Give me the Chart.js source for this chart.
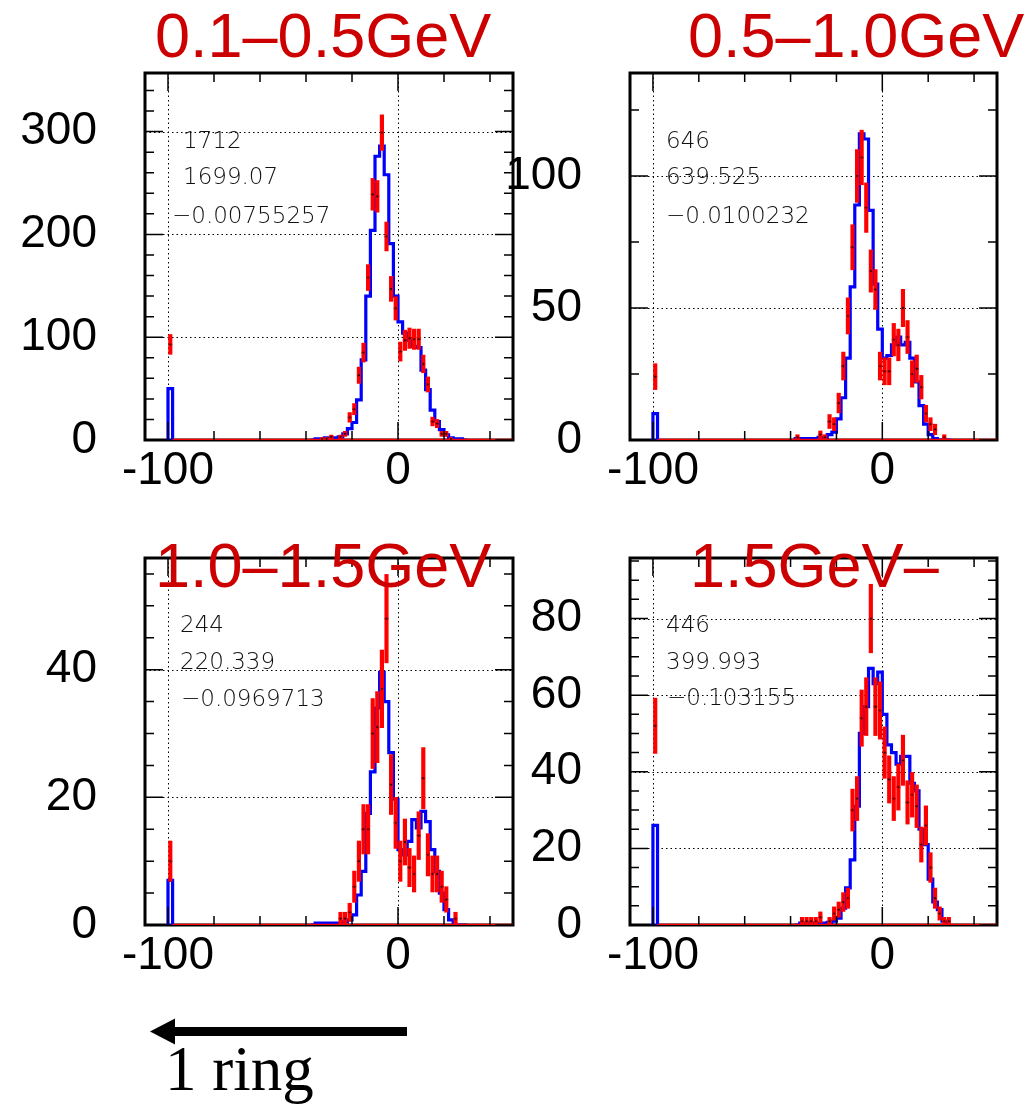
<!DOCTYPE html>
<html>
<head>
<meta charset="utf-8">
<title>ring histograms</title>
<script src="https://cdn.jsdelivr.net/npm/chart.js@4.4.1/dist/chart.umd.min.js"></script>
<style>
  body { margin: 0; background: #fff; }
  #page { position: relative; width: 1032px; height: 1104px; overflow: hidden; background: #fff; }
  #page canvas { position: absolute; }
  .title { position: absolute; font-family: Arial, "Liberation Sans", sans-serif; font-size: 63px; line-height: 63px; color: #cc0000; white-space: nowrap; }
  .stat { position: absolute; font-family: "DejaVu Sans", sans-serif; font-weight: 200; font-size: 23px; line-height: 23px; color: #111; white-space: nowrap; }
  .ring { position: absolute; left: 165px; top: 1038px; font-family: "Liberation Serif", "Times New Roman", serif; font-size: 63px; line-height: 63px; color: #000; white-space: nowrap; }
</style>
</head>
<body>
<div id="page">
  <canvas id="c1" width="520" height="500" style="left:0px;top:0px"></canvas>
  <canvas id="c2" width="542" height="500" style="left:490px;top:0px"></canvas>
  <canvas id="c3" width="520" height="500" style="left:0px;top:485px"></canvas>
  <canvas id="c4" width="542" height="500" style="left:490px;top:485px"></canvas>
  <svg width="1032" height="1104" style="position:absolute;left:0;top:0">
    <line x1="407" y1="1031.5" x2="170" y2="1031.5" stroke="#000" stroke-width="9"></line>
    <polygon points="150,1031.5 175,1018.5 175,1044.5" fill="#000"></polygon>
  </svg>
  <div class="ring">1 ring</div>
</div>
<script>
// bin centres shared by all four histograms (first bin is the "1 ring" bin)
const binWidth = 2;
const binCenters = [-99, -37, -35, -33, -31, -29, -27, -25, -23, -21, -19, -17, -15, -13, -11, -9, -7, -5, -3, -1,
  1, 3, 5, 7, 9, 11, 13, 15, 17, 19, 21, 23, 25, 27, 29];

// 0.1-0.5 GeV
const mc1 = [50, 0, 1, 1, 2, 2, 2, 3, 6, 11, 17, 39, 78, 140, 204, 276, 286, 258, 191, 140,
  115, 104, 97, 91, 90, 68, 49, 29, 18, 10, 5, 2, 1, 1, 0];
const data1 = [93, 0, 0, 1, 1, 3, 0, 3, 6, 22, 30, 63, 85, 158, 239, 237, 299, 198, 147, 128,
  86, 97, 99, 98, 98, 74, 54, 18, 16, 6, 6, 1, 0, 0, 0];

// 0.5-1.0 GeV
const mc2 = [10, 0.5, 0.5, 0.5, 0.5, 0.5, 1, 1, 2, 3, 8, 16, 31, 58, 89, 116, 114, 87, 59, 42,
  31, 32, 36, 39, 36, 37, 31, 22, 13, 6, 2, 0.5, 0, 0, 0];
const data2 = [24, 1, 0, 0, 0, 0, 2, 1, 7, 6, 14, 28, 47, 73, 100, 107, 88, 64, 57, 28,
  26, 26, 38, 36, 50, 39, 25, 27, 20, 10, 6, 4, 0, 1, 0];

// 1.0-1.5 GeV
const mc3 = [7, 0, 0.3, 0.3, 0.3, 0.3, 0.3, 0.3, 0.5, 0.8, 1.6, 4.7, 8.4, 17.5, 24, 34, 39.6, 35, 27, 19.7,
  11.8, 11, 13.1, 16.5, 15.2, 17.8, 16.2, 11.8, 8.4, 5, 2.4, 0.8, 0, 0, 0];
const data3 = [10, 0, 0, 0, 0, 0, 0, 1, 1, 2, 6, 10, 15, 15, 30, 31, 37, 48, 22, 16,
  10, 13, 9, 8, 14, 23, 11, 8, 8, 6, 4, 0, 1, 0, 0];

// 1.5 GeV -
const mc4 = [26, 0, 0.5, 0.5, 0.5, 0.5, 0.5, 0.5, 0.7, 1, 1.8, 4.4, 9.7, 17, 31, 50, 57, 67, 63, 66,
  55, 47, 45, 42, 44, 44, 37, 35, 25, 21, 12, 6, 4, 1, 0];
const data4 = [52, 0, 1, 1, 1, 1, 2, 0, 1, 3, 4, 6, 7, 30, 33, 54, 57, 80, 57, 56,
  45, 38, 33, 36, 43, 32, 34, 31, 21, 26, 15, 7, 3, 1, 1];

const xRange = [-110, 50];
const xMajor = [-100, 0];
const xMinor = [-80, -60, -40, -20, 20, 40];
const yTop = [357, 139, 57.5, 95.8];
const yMajor = [[0, 100, 200, 300], [0, 50, 100], [0, 20, 40], [0, 20, 40, 60, 80]];
const yMinorStep = [20, 25, 5, 5];

const titles = ['0.1–0.5GeV', '0.5–1.0GeV', '1.0–1.5GeV', '1.5GeV–'];
const statLines = [
  ['1712', '1699.07', '−0.00755257'],
  ['646', '639.525', '−0.0100232'],
  ['244', '220.339', '−0.0969713'],
  ['446', '399.993', '−0.103155']
];

// page layout (pixels)
const boxes = [
  { id: 'c1', left: 0, top: 0, w: 520, h: 500 },
  { id: 'c2', left: 490, top: 0, w: 542, h: 500 },
  { id: 'c3', left: 0, top: 485, w: 520, h: 500 },
  { id: 'c4', left: 490, top: 485, w: 542, h: 500 }
];
const frames = [
  { l: 145, r: 513, t: 73, b: 440 },
  { l: 630, r: 997, t: 73, b: 440 },
  { l: 145, r: 513, t: 558, b: 925 },
  { l: 630, r: 997, t: 558, b: 925 }
];
const titlePos = [[155, 3.7], [688, 3.7], [155, 533.7], [690, 533.7]];
const statPos = [
  [[183, 128.5], [183, 165], [172, 203.5]],
  [[666, 128.5], [666, 165], [666, 203.5]],
  [[180, 613], [180, 650], [181, 687]],
  [[666, 613], [666, 650], [667, 686]]
];

const panels = [
  { mc: mc1, data: data1 },
  { mc: mc2, data: data2 },
  { mc: mc3, data: data3 },
  { mc: mc4, data: data4 }
];

Chart.defaults.font.family = 'Arial, "Liberation Sans", sans-serif';

// blue MC histogram as a step outline, broken where bins are not adjacent
function stepPoints(values) {
  const pts = [];
  binCenters.forEach((c, i) => {
    const lo = c - binWidth / 2, hi = c + binWidth / 2;
    const prev = binCenters[i - 1];
    if (prev === undefined || prev + binWidth / 2 !== lo) pts.push({ x: lo, y: 0 });
    pts.push({ x: lo, y: values[i] });
    const next = binCenters[i + 1];
    if (next === undefined || next - binWidth / 2 !== hi) {
      pts.push({ x: hi, y: 0 });
      pts.push({ x: hi, y: null });
    }
  });
  return pts;
}

// statistical error bars (sqrt N) as floating bars
function errorBars(values) {
  return binCenters
    .map((c, i) => values[i] > 0 ? { x: c, y: [Math.max(0, values[i] - Math.sqrt(values[i])), values[i] + Math.sqrt(values[i])] } : null)
    .filter(Boolean);
}

function markers(values) {
  return binCenters.map((c, i) => values[i] > 0 ? { x: c, y: values[i] } : null).filter(Boolean);
}

// ROOT style frame: dotted grid, box and inward ticks
const rootFrame = {
  id: 'rootFrame',
  beforeDatasetsDraw(chart, args, opts) {
    const { ctx, chartArea: a, scales: { x, y } } = chart;
    ctx.save();
    ctx.strokeStyle = '#000';
    ctx.lineWidth = 1;
    ctx.setLineDash([1.5, 3]);
    ctx.beginPath();
    opts.xMajor.forEach(v => {
      const px = Math.round(x.getPixelForValue(v)) + 0.5;
      ctx.moveTo(px, a.top); ctx.lineTo(px, a.bottom);
    });
    opts.yMajor.forEach(v => {
      if (v <= y.min) return;
      const py = Math.round(y.getPixelForValue(v)) + 0.5;
      ctx.moveTo(a.left, py); ctx.lineTo(a.right, py);
    });
    ctx.stroke();
    ctx.setLineDash([]);
    ctx.lineWidth = 3;
    ctx.strokeRect(a.left, a.top, a.right - a.left, a.bottom - a.top);
    ctx.restore();
  },
  afterDatasetsDraw(chart, args, opts) {
    const { ctx, chartArea: a, scales: { x, y } } = chart;
    ctx.save();
    ctx.strokeStyle = '#000';
    ctx.lineWidth = 1.5;
    ctx.beginPath();
    const xt = opts.xMajor.map(v => [v, 18]).concat(opts.xMinor.map(v => [v, 9]));
    xt.forEach(([v, len]) => {
      const px = x.getPixelForValue(v);
      ctx.moveTo(px, a.bottom); ctx.lineTo(px, a.bottom - len);
      ctx.moveTo(px, a.top); ctx.lineTo(px, a.top + len);
    });
    for (let v = y.min; v <= y.max; v += opts.yStep) {
      const len = opts.yMajor.includes(v) ? 18 : 9;
      const py = y.getPixelForValue(v);
      ctx.moveTo(a.left, py); ctx.lineTo(a.left + len, py);
      ctx.moveTo(a.right, py); ctx.lineTo(a.right - len, py);
    }
    ctx.stroke();
    ctx.restore();
  }
};

panels.forEach((p, k) => {
  const box = boxes[k];
  const frame = frames[k];
  new Chart(document.getElementById(box.id), {
    type: 'line',
    data: {
      datasets: [
        { type: 'line', data: stepPoints(p.mc), borderColor: '#0000ff', borderWidth: 3.2, stepped: true, spanGaps: false, pointRadius: 0, fill: false, order: 3 },
        { type: 'line', data: [{ x: binCenters[0] + binWidth / 2, y: 0 }, { x: xRange[1], y: 0 }], borderColor: '#ff0000', borderWidth: 2.5, pointRadius: 0, order: 2 },
        { type: 'bar', data: errorBars(p.data), backgroundColor: '#ff0000', barThickness: 3.5, order: 1 },
        { type: 'line', data: markers(p.data), showLine: false, pointRadius: 1.6, pointBackgroundColor: '#400000', pointBorderColor: '#ff0000', pointBorderWidth: 1, order: 0 }
      ]
    },
    options: {
      responsive: false,
      animation: false,
      events: [],
      layout: { padding: { top: frame.t - box.top, right: box.left + box.w - frame.r, left: 0, bottom: 0 } },
      plugins: {
        legend: { display: false },
        tooltip: { enabled: false },
        title: { display: false },
        rootFrame: { xMajor: xMajor, xMinor: xMinor, yMajor: yMajor[k], yStep: yMinorStep[k] }
      },
      scales: {
        x: {
          type: 'linear', min: xRange[0], max: xRange[1], offset: false,
          grid: { display: false, drawTicks: false }, border: { display: false },
          afterBuildTicks: s => { s.ticks = xMajor.map(v => ({ value: v })); },
          afterFit: s => { s.height = box.top + box.h - frame.b; },
          ticks: { padding: 4, color: '#000', font: { size: 46 }, maxRotation: 0, autoSkip: false, callback: v => String(v) }
        },
        y: {
          type: 'linear', min: 0, max: yTop[k],
          // tick marks are hidden; their length only sets the label gap
          grid: { display: false, drawTicks: true, tickLength: 45, tickColor: 'rgba(0,0,0,0)' }, border: { display: false },
          afterBuildTicks: s => { s.ticks = yMajor[k].map(v => ({ value: v })); },
          afterFit: s => { s.width = frame.l - box.left; },
          ticks: { padding: 3, color: '#000', font: { size: 46 }, autoSkip: false, callback: v => String(v) }
        }
      }
    },
    plugins: [rootFrame]
  });

  const page = document.getElementById('page');
  const t = document.createElement('div');
  t.className = 'title';
  t.textContent = titles[k];
  t.style.left = titlePos[k][0] + 'px';
  t.style.top = titlePos[k][1] + 'px';
  page.appendChild(t);

  statLines[k].forEach((line, j) => {
    const s = document.createElement('div');
    s.className = 'stat';
    s.textContent = line;
    s.style.left = statPos[k][j][0] + 'px';
    s.style.top = statPos[k][j][1] + 'px';
    page.appendChild(s);
  });
});
</script>
</body>
</html>
